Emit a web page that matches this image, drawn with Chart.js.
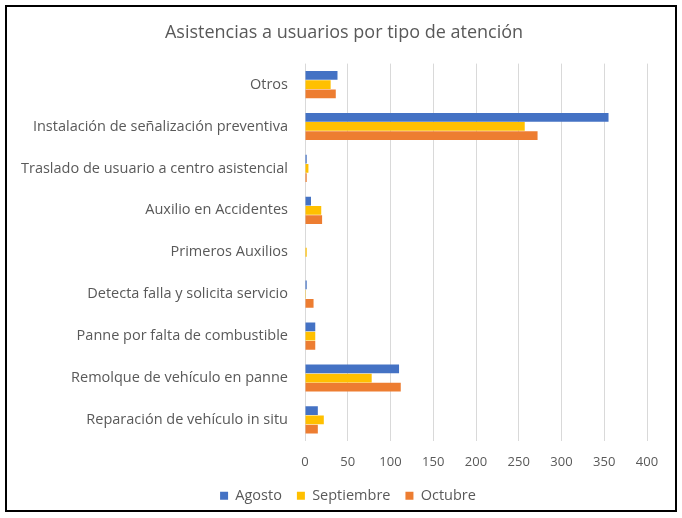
<!DOCTYPE html>
<html>
<head>
<meta charset="utf-8">
<script src="https://cdn.jsdelivr.net/npm/chart.js@4"></script>
<style>
  body { margin: 0; background: #fff; }
  #box { position: absolute; left: 5px; top: 5px; width: 668px; height: 503px; border: 2px solid #000; background: #fff; overflow: hidden; }
</style>
</head>
<body>
<div id="box"><canvas id="chart" width="668" height="506"></canvas></div>
<script>
const categories = [
  'Otros',
  'Instalación de señalización preventiva',
  'Traslado de usuario a centro asistencial',
  'Auxilio en Accidentes',
  'Primeros Auxilios',
  'Detecta falla y solicita servicio',
  'Panne por falta de combustible',
  'Remolque de vehículo en panne',
  'Reparación de vehículo in situ'
];
const agosto     = [38, 355, 2, 7, 0, 2, 12, 110, 15];
const septiembre = [30, 257, 4, 19, 2, 1, 12, 78, 22];
const octubre    = [36, 272, 2, 20, 0, 10, 12, 112, 15];

const font = "'Open Sans', sans-serif";
const grey = '#595959';

// title and legend are centred on the whole box in the original, not on the padded area
const shiftBoxes = {
  id: 'shiftBoxes',
  afterLayout(chart) {
    chart.titleBlock.left += 17;
    chart.titleBlock.right += 17;
    chart.legend.left += 21;
    chart.legend.right += 21;
  }
};

const ctx = document.getElementById('chart');
new Chart(ctx, {
  type: 'bar',
  data: {
    labels: categories,
    datasets: [
      { label: 'Agosto', data: agosto, backgroundColor: '#4472C4' },
      { label: 'Septiembre', data: septiembre, backgroundColor: '#FFC000' },
      { label: 'Octubre', data: octubre, backgroundColor: '#ED7D31' }
    ]
  },
  options: {
    indexAxis: 'y',
    responsive: false,
    animation: false,
    barPercentage: 0.95,
    categoryPercentage: 0.66,
    layout: { padding: { left: 0, right: 28, top: 15, bottom: 0 } },
    plugins: {
      title: {
        display: true,
        text: 'Asistencias a usuarios por tipo de atención',
        color: grey,
        font: { family: font, size: 18, weight: 'normal' },
        padding: { top: 0, bottom: 20 }
      },
      legend: {
        position: 'bottom',
        labels: {
          color: grey,
          font: { family: font, size: 14.5 },
          boxWidth: 8,
          boxHeight: 8,
          padding: 15
        }
      },
      tooltip: { enabled: false }
    },
    scales: {
      x: {
        min: 0,
        max: 400,
        ticks: { stepSize: 50, color: grey, font: { family: font, size: 13 }, padding: 14 },
        grid: { color: '#d9d9d9', drawTicks: false },
        border: { display: false },
        afterFit: (s) => { s.height -= 11; }
      },
      y: {
        ticks: { color: grey, font: { family: font, size: 14.5 }, padding: 9 },
        grid: { display: false },
        border: { display: false },
        afterFit: (s) => { s.width = 298; }
      }
    }
  },
  plugins: [shiftBoxes]
});
</script>
</body>
</html>
